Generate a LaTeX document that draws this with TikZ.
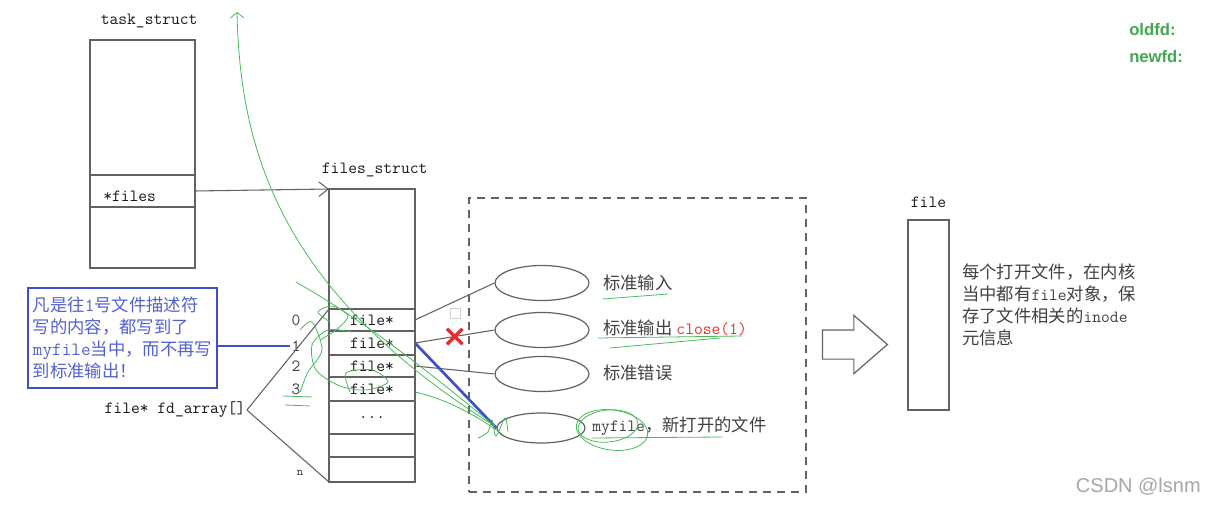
\documentclass[tikz,border=0pt]{standalone}
\usepackage{fontspec}
\newfontfamily\cjkfont{Noto Sans CJK SC}
\newfontfamily\sansfont{Liberation Sans}
\usepackage{tikz}
\usetikzlibrary{arrows.meta,positioning,calc,shapes.geometric,shapes.arrows,shapes.misc}
\usepackage{xcolor}
\definecolor{inkgray}{RGB}{98,98,98}
\definecolor{noteblue}{RGB}{62,78,205}
\definecolor{pengreen}{RGB}{72,186,92}
\definecolor{markred}{RGB}{232,45,45}
\newcommand{\rowdots}{...}
\newcommand{\monotext}{\ttfamily\fontsize{12.8}{15}\selectfont}
\newcommand{\notemono}{\ttfamily\fontsize{14}{16.5}\selectfont}

\begin{document}
\begin{tikzpicture}[
  	x=0.75pt,
  	y=-0.75pt,
  	font=\monotext,
  	cell/.style={rectangle,draw=inkgray,line width=0.9pt,inner sep=0pt,outer sep=0pt,text=black!90},
  	structname/.style={text=black!90,inner sep=1pt},
  	index/.style={text=black!75,inner sep=1pt},
  	link/.style={draw=inkgray,line width=0.8pt},
  	ptr/.style={link,-{Straight Barb[length=7pt,width=11pt]}},
  	dupline/.style={draw=noteblue,line width=2pt},
  	fileobj/.style={ellipse,draw=inkgray,line width=0.9pt,minimum width=70.5pt,minimum height=26.25pt,inner sep=0pt},
  	desc/.style={anchor=west,inner sep=0pt,text=black!75,font=\cjkfont\fontsize{13}{16.5}\selectfont},
  	note/.style={draw=noteblue,line width=2.2pt,text=noteblue!90,align=left,font=\cjkfont\fontsize{13}{16.5}\selectfont,
  		minimum width=141.75pt,minimum height=75pt,inner sep=3pt},
  	dashbox/.style={draw=inkgray,line width=0.9pt,dash pattern=on 6pt off 4.5pt,minimum width=252.75pt,minimum height=220.5pt,inner sep=0pt},
  	closemark/.style={cross out,draw=markred,line width=2.6pt,minimum size=9pt,inner sep=0pt},
  	hollowarrow/.style={single arrow,draw=inkgray,line width=0.9pt,minimum height=48.75pt,inner sep=10.5pt,
  		single arrow head extend=10.9pt,single arrow tip angle=82},
  	pennote/.style={anchor=west,text=pengreen!90!black,font=\sansfont\bfseries\fontsize{12.5}{14}\selectfont,inner sep=0pt},
  	pen/.style={draw=pengreen,line width=0.6pt,line cap=round}
  	]
  	\useasboundingbox (0,0) rectangle (1206,506);
  	
  	% task_struct
  	\node[cell,minimum width=78.75pt,minimum height=101.25pt] (tasktop) at (142.5,107.5) {};
  	\node[cell,minimum width=78.75pt,minimum height=24pt] (taskfiles) at (142.5,191) {};
  	\node[cell,minimum width=78.75pt,minimum height=45.75pt] (taskbot) at (142.5,237.5) {};
  	\node[structname,above=8pt of tasktop,xshift=5pt] (tasklbl) {task\_struct};
  	\node[anchor=west,text=black!90,inner sep=0pt] (filesptr) at (103,196) {*files};
  	
  	% files_struct with fd_array rows
  	\foreach \nm/\yc/\rowh/\txt in {fstop/249/90pt/{},fs1/320/16.5pt/file*,fs2/343/18pt/file*,fs3/366/16.5pt/file*,
  		fs4/389/18pt/file*,fs5/417.5/24.75pt/\rowdots,fs6/445.5/17.25pt/{},fs7/469.5/18.75pt/{}} {
  		\node[cell,minimum width=64.5pt,minimum height=\rowh] (\nm) at (372,\yc) {\txt};
  	}
  	\node[structname,above=8pt of fstop,xshift=2pt] (fslbl) {files\_struct};
  	\draw[ptr] (taskfiles.east) -- (fstop.north west);
  	
  	\foreach \nm/\yc/\txt in {idx0/320/0,idx1/346/1,idx2/366/2,idx3/389/3} {
  		\node[index] (\nm) at (296,\yc) {\txt};
  	}
  	\node[index,font=\fontsize{9}{10}\ttfamily] (idxn) at (300,473) {n};
  	
  	\node[text=black!90,inner sep=1pt] (fdarray) at (175,410) {file* fd\_array[]};
  	\draw[link] (fdarray.east) -- (fs1.north west);
  	\draw[link] (fdarray.east) -- (fs7.south west);
  	
  	% blue note
  	\node[note] (note) at (122.5,338) {凡是往{\notemono 1}号文件描述符\\写的内容，都写到了\\{\notemono myfile}当中，而不再写\\到标准输出！};
  	\draw[dupline] (note.east |- idx1) -- (idx1.west);
  	
  	% open file objects
  	\node[dashbox] (openfiles) at (637.5,345) {};
  	\foreach \nm/\yc in {stdin/283,stdout/330,stderr/374} {
  		\node[fileobj] (\nm) at (542,\yc) {};
  	}
  	\node[fileobj,minimum width=66pt,minimum height=22.5pt] (myfile) at (541,428) {};
  	
  	\node[desc] (stdinlbl) at (603,283) {标准输入};
  	\node[desc] (stdoutlbl) at (603,328) {标准输出 {\monotext\color{markred}close(1)}};
  	\node[desc] (stderrlbl) at (603,373) {标准错误};
  	\node[desc] (myfilelbl) at (592,426) {{\monotext myfile}，新打开的文件};
  	
  	\draw[link] (fs1.east) -- (stdin.west);
  	\draw[link] (fs2.east) -- node[closemark] (redx) {} (stdout.west);
  	\draw[link] (fs3.east) -- (stderr.west);
  	\draw[dupline] (fs2.east) -- (myfile.west);
  	\node[draw=black!18,minimum size=7.5pt,inner sep=0pt] (tickbox) at (455,313) {};
  	
  	% file object
  	\node[hollowarrow] (tofile) at (846.5,344.5) {};
  	\node[cell,minimum width=30.75pt,minimum height=142.5pt] (filebox) at (928.5,315) {};
  	\node[structname,above=8pt of filebox] (filelbl) {file};
  	\node[desc,anchor=north west,align=left] (fileinfo) at (962,264) {每个打开文件，在内核\\当中都有{\monotext file}对象，保\\存了文件相关的{\monotext inode}\\元信息};
  	
  	\node[pennote] (oldfd) at (1129,30) {oldfd:};
  	\node[pennote] (newfd) at (1129,57) {newfd:};
  	\node[anchor=east,text=black!35,font=\sansfont\fontsize{15}{17}\selectfont,inner sep=0pt] (mark) at (1201,487) {CSDN @lsnm};
  	
  	% hand-drawn pen strokes
  	\draw[pen,-{Straight Barb[length=4pt,width=10pt]}] (490,423) .. controls (280,290) and (240,150) .. (237,12);
  	\draw[pen] (296,282) .. controls (380,330) and (450,390) .. (495,426);
  	\draw[pen] (415,392) .. controls (450,400) and (480,418) .. (502,434);
  	\draw[pen] plot[smooth] coordinates {(352,332) (328,330) (312,345) (316,370) (340,386) (366,390) (388,382) (372,370) (346,373) (350,392)};
  	\draw[pen] plot[smooth] coordinates {(330,322) (318,312) (332,306) (348,316) (336,330) (320,340)};
  	\draw[pen] plot[smooth] coordinates {(300,330) (312,322) (322,350) (308,372) (300,392)};
  	\draw[pen] (283,396) -- (312,397);
  	\draw[pen] (285,405) -- (310,406);
  	\draw[pen] (603,299) -- (668,294);
  	\draw[pen] (598,338) -- (742,336);
  	\draw[pen] (610,348) -- (720,338);
  	\draw[pen] (592,438) -- (722,437);
  	\draw[pen,rotate around={-8:(612,430)}] (612,430) ellipse (36 and 20);
  	\draw[pen,rotate around={6:(608,426)}] (608,426) ellipse (30 and 16);
  	\draw[pen] plot[smooth] coordinates {(478,438) (488,432) (492,420) (496,436) (505,418) (508,432)};
  \end{tikzpicture}
\end{document}
